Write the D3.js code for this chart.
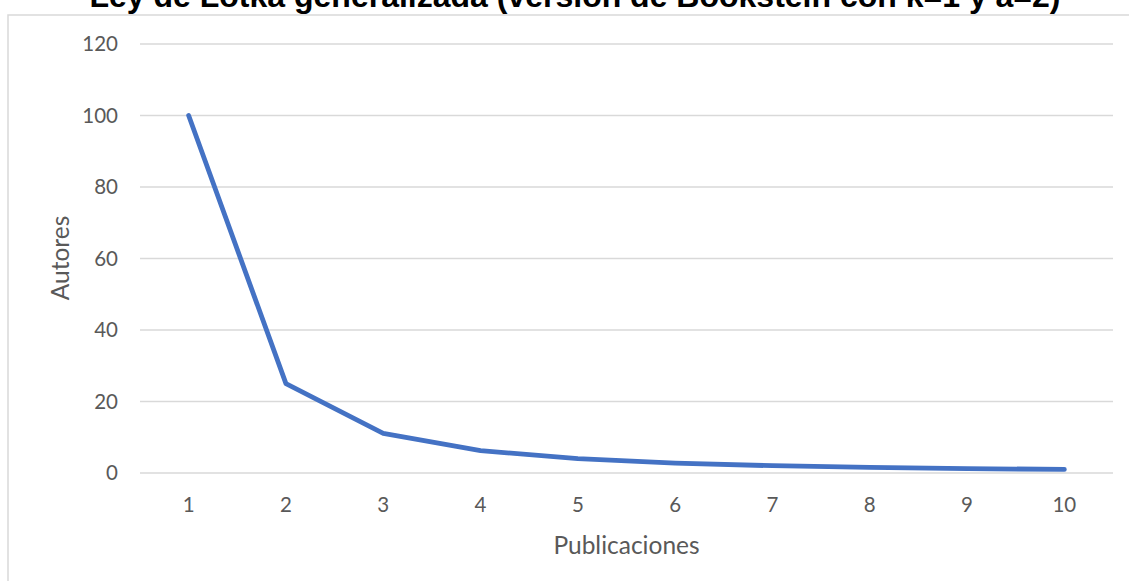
<!DOCTYPE html>
<html><head><meta charset="utf-8">
<script src="https://cdn.jsdelivr.net/npm/d3@7"></script>
<style>body{margin:0;background:#fff}</style>
</head><body>
<svg id="c" width="1129" height="581"></svg>
<script>
const categories = [1,2,3,4,5,6,7,8,9,10];
const autores = [100,25,11.11,6.25,4,2.78,2.04,1.56,1.23,1];
const yTicks = [0,20,40,60,80,100,120];
const title = "Ley de Lotka generalizada (versión de Bookstein con k=1 y a=2)";

const svg = d3.select("#c");
const m = {l:140, r:1113, t:44, b:473};
const font = "Lato, 'Open Sans', sans-serif";
const tc = "#595959";

svg.append("rect").attr("x",8).attr("y",15).attr("width",1140).attr("height",600)
  .attr("fill","#fff").attr("stroke","#d9d9d9").attr("stroke-width",1.5);

svg.append("text").attr("x",575).attr("y",7).attr("text-anchor","middle")
  .attr("font-family","'Liberation Sans', Arial, sans-serif").attr("font-weight","bold")
  .attr("font-size",32).attr("fill","#000").text(title);

const x = d3.scaleBand().domain(categories).range([m.l,m.r]);
const y = d3.scaleLinear().domain([0,120]).range([m.b,m.t]);

svg.append("g").selectAll("line").data(yTicks).join("line")
  .attr("x1",m.l).attr("x2",m.r).attr("y1",d=>y(d)).attr("y2",d=>y(d))
  .attr("stroke","#d9d9d9").attr("stroke-width",1.3);

svg.append("g").selectAll("text").data(yTicks).join("text")
  .attr("x",118).attr("y",d=>y(d)).attr("dy","0.35em").attr("text-anchor","end")
  .attr("font-family",font).attr("font-size",20.5).attr("fill",tc).text(d=>d);

svg.append("g").selectAll("text").data(categories).join("text")
  .attr("x",d=>x(d)+x.bandwidth()/2).attr("y",505).attr("dy","0.35em").attr("text-anchor","middle")
  .attr("font-family",font).attr("font-size",20.5).attr("fill",tc).text(d=>d);

const line = d3.line().x((d,i)=>x(categories[i])+x.bandwidth()/2).y(d=>y(d));
svg.append("path").datum(autores).attr("d",line).attr("fill","none")
  .attr("stroke","#4472C4").attr("stroke-width",4.8).attr("stroke-linejoin","round").attr("stroke-linecap","round");

svg.append("text").attr("x",(m.l+m.r)/2).attr("y",545).attr("dy","0.35em").attr("text-anchor","middle")
  .attr("font-family",font).attr("font-size",24.5).attr("fill",tc).text("Publicaciones");

svg.append("text").attr("transform","translate(60,258) rotate(-90)").attr("dy","0.35em").attr("text-anchor","middle")
  .attr("font-family",font).attr("font-size",24.5).attr("fill",tc).text("Autores");
</script>
</body></html>
